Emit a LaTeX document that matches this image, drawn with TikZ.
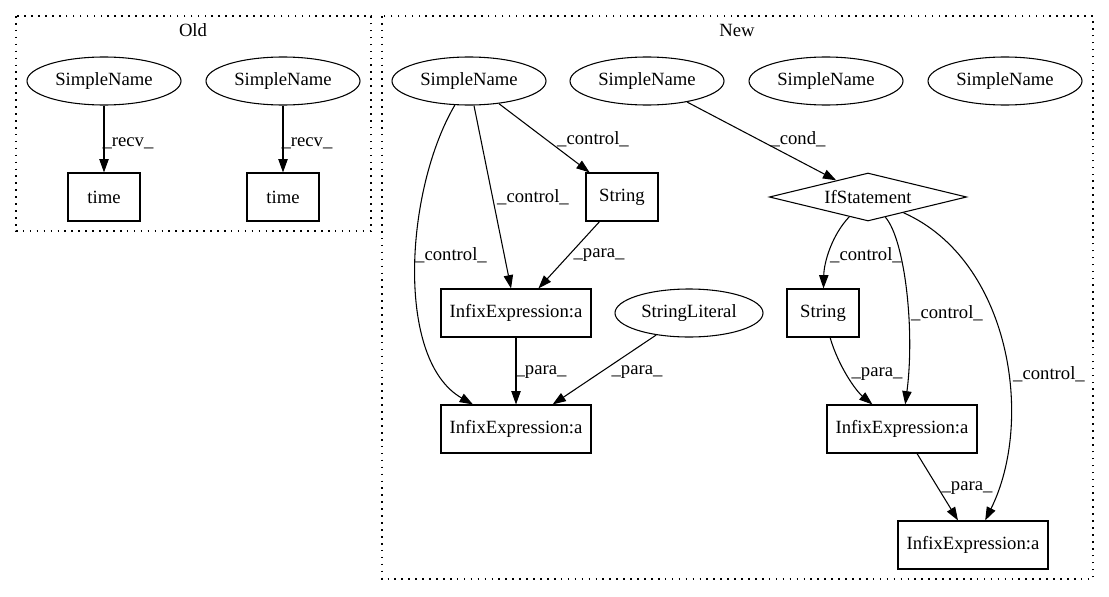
\documentclass[tikz,border=0pt]{standalone}
\usepackage{fontspec}
\setmainfont{Liberation Serif}
\usetikzlibrary{shapes.geometric,arrows.meta}

\begin{document}
\begin{tikzpicture}[x=0.75pt,y=0.75pt,yscale=-1,xscale=1,
  font=\fontsize{14}{16}\selectfont,
  every node/.style={inner sep=0pt},
  ell/.style={draw,ellipse,line width=0.8pt,minimum width=115.5pt,minimum height=36pt},
  box/.style={draw,rectangle,line width=0.8pt,minimum width=54pt,minimum height=36pt},
  wbox/.style={box,minimum width=112.5pt},
  dia/.style={draw,diamond,line width=0.8pt,minimum width=148pt,minimum height=36pt,shape aspect=4},
  edge/.style={line width=0.8pt,-{Triangle[length=10pt,width=7pt]}},
  cluster/.style={line width=0.8pt,dash pattern=on 1.2pt off 4pt}]
\useasboundingbox (0,0) rectangle (1109,596);

%Shape: Clusters
\draw [cluster] (16,16) rectangle (371,231);
\draw [cluster] (382,16) rectangle (1093,579);
% Text Node
\draw (193,30) node (old) {Old};
% Text Node
\draw (737,30) node (new) {New};

%Shape: Ellipse
\node [ell] (osa) at (104,81) {SimpleName};
\node [ell] (osb) at (283,81) {SimpleName};
\node [ell] (sa) at (469,81) {SimpleName};
\node [ell] (sb) at (647,81) {SimpleName};
\node [ell] (sc) at (826,81) {SimpleName};
\node [ell] (sd) at (1005,81) {SimpleName};
\node [ell,minimum width=111pt] (lit) at (689,313) {StringLiteral};

%Shape: Rectangle
\node [box] (ta) at (104,197) {time};
\node [box] (tb) at (283,197) {time};
\node [box] (stra) at (622,197) {String};
\node [box] (strb) at (823,313) {String};
\node [wbox] (ia) at (516,313) {InfixExpression:a};
\node [wbox] (ib) at (516,429) {InfixExpression:a};
\node [wbox] (ic) at (902,429) {InfixExpression:a};
\node [wbox] (id) at (973,545) {InfixExpression:a};

%Shape: Diamond
\node [dia] (ifs) at (868,197) {IfStatement};

%Straight Lines
\draw [edge] (osa) -- (ta);
\draw [edge] (osb) -- (tb);
\draw [edge] (sa) -- (stra);
\draw [edge] (sa) -- (ia);
\draw [edge] (stra) -- (ia);
\draw [edge] (ia) -- (ib);
\draw [edge] (lit) -- (ib);
\draw [edge] (sb) -- (ifs);
\draw [edge] (ic) -- (id);
%Curve Lines
\draw [edge] (sa) .. controls (405,190) and (395,360) .. (ib);
\draw [edge] (ifs) .. controls (832,235) and (824,262) .. (strb);
\draw [edge] (ifs) .. controls (905,240) and (915,330) .. (ic);
\draw [edge] (ifs) .. controls (1010,260) and (1035,420) .. (id);
\draw [edge] (strb) .. controls (838,365) and (855,390) .. (ic);

% Text Node
\draw (128,143) node (la) {\_recv\_};
\draw (307,143) node (lb) {\_recv\_};
\draw (593,139) node (lc) {\_control\_};
\draw (533,197) node (ld) {\_control\_};
\draw (451,255) node (le) {\_control\_};
\draw (599,255) node (lf) {\_para\_};
\draw (541,372) node (lg) {\_para\_};
\draw (637,372) node (lh) {\_para\_};
\draw (798,139) node (li) {\_cond\_};
\draw (866,255) node (lj) {\_control\_};
\draw (947,313) node (lk) {\_control\_};
\draw (877,374) node (ll) {\_para\_};
\draw (1049,374) node (lm) {\_control\_};
\draw (967,488) node (ln) {\_para\_};

\end{tikzpicture}
\end{document}
